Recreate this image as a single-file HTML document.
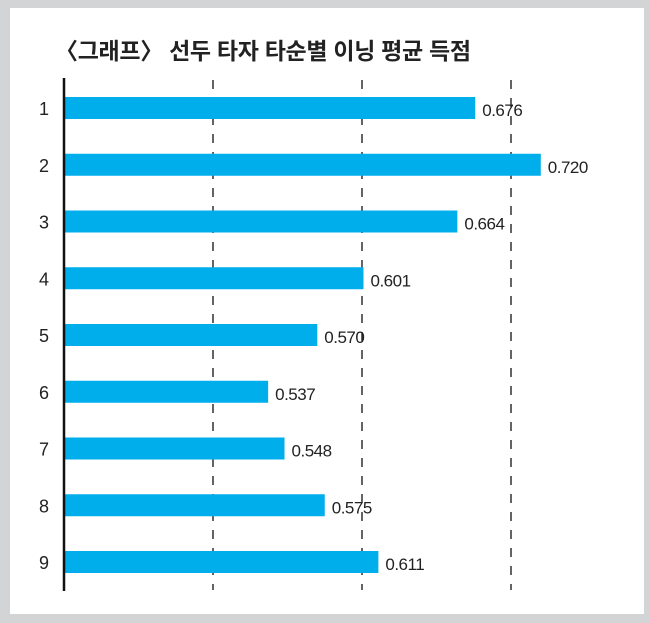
<!DOCTYPE html>
<html><head><meta charset="utf-8"><style>
body{margin:0;width:650px;height:623px;background:#d3d4d6;font-family:"Liberation Sans","Noto Sans CJK KR",sans-serif;overflow:hidden}
#card{position:absolute;left:10px;top:8px;width:634px;height:606px;background:#fff}
#title{position:absolute;left:55px;top:32px;font-size:23px;font-weight:bold;color:#222;letter-spacing:-0.3px;white-space:nowrap}
</style></head><body>
<div id="card"></div>
<div id="title">〈그래프〉 선두 타자 타순별 이닝 평균 득점</div>
<svg id="chart" width="650" height="623" style="position:absolute;left:0;top:0"></svg>
<script>
const categories=["1","2","3","4","5","6","7","8","9"];
const values=[0.676,0.720,0.664,0.601,0.570,0.537,0.548,0.575,0.611];
const valueLabels=["0.676","0.720","0.664","0.601","0.570","0.537","0.548","0.575","0.611"];
const gridTicks=[0.5,0.6,0.7];
const NS="http://www.w3.org/2000/svg";
const svg=document.getElementById('chart');
const x=v=>64+(v-0.4)*1490;
const y=i=>108+i*56.75;
function mk(t,a){const e=document.createElementNS(NS,t);for(const k in a)e.setAttribute(k,a[k]);svg.appendChild(e);return e;}
gridTicks.forEach(t=>{
  const l=mk('line',{x1:x(t),x2:x(t),y1:80,y2:590,stroke:'#222','stroke-width':1.4,'stroke-dasharray':'9,9'});
  
  
});
categories.forEach((c,i)=>{
  const b=mk('rect',{x:x(0.4),y:y(i)-11,width:x(values[i])-x(0.4),height:22,fill:'#00aeec'});
  
  
  const lab=mk('text',{x:44,y:y(i)+7,'text-anchor':'middle','font-size':18,fill:'#222'});
  lab.textContent=c;
  
  
  const v=mk('text',{x:x(values[i])+7,y:y(i)+8,'font-size':17,fill:'#222','letter-spacing':'-0.5'});
  v.textContent=valueLabels[i];
  
  
});
const ax=mk('line',{x1:64,x2:64,y1:78,y2:591,stroke:'#111','stroke-width':2.5});


</script>
</body></html>
